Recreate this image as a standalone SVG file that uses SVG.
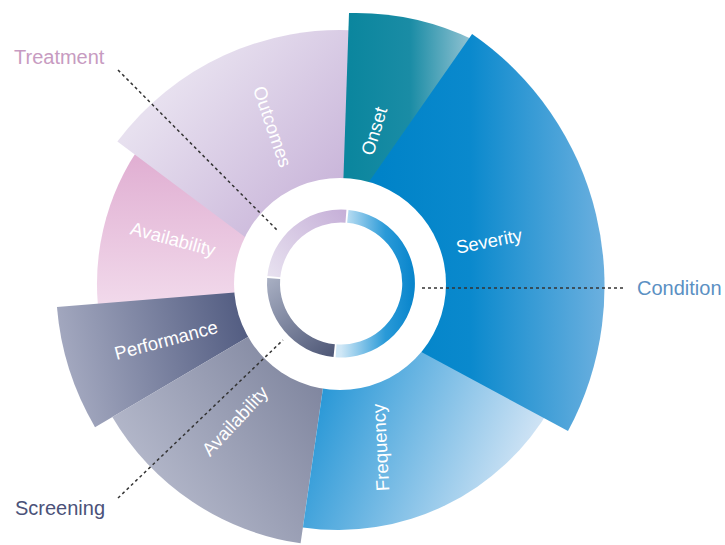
<svg xmlns="http://www.w3.org/2000/svg" width="725" height="545" viewBox="0 0 725 545">
  <style>
    .lbl { font-family: "Liberation Sans", Arial, sans-serif; font-size: 18.5px; fill: #ffffff; text-anchor: middle; }
    .cat { font-family: "Liberation Sans", Arial, sans-serif; font-size: 20px; }
    .dash { fill: none; stroke: #333333; stroke-width: 1.5; stroke-dasharray: 3 3; }
  </style>
  <defs>
    <linearGradient id="gOutcomes" gradientUnits="userSpaceOnUse" x1="170" y1="90" x2="320" y2="230">
      <stop offset="0" stop-color="#e7e0ef"/>
      <stop offset="1" stop-color="#c7b2d8"/>
    </linearGradient>
    <linearGradient id="gPink" gradientUnits="userSpaceOnUse" x1="0" y1="160" x2="0" y2="310">
      <stop offset="0" stop-color="#e1b0d3"/>
      <stop offset="1" stop-color="#f2dbec"/>
    </linearGradient>
    <linearGradient id="gPerf" gradientUnits="userSpaceOnUse" x1="240" y1="300" x2="60" y2="340">
      <stop offset="0" stop-color="#535d82"/>
      <stop offset="1" stop-color="#a3a8bf"/>
    </linearGradient>
    <linearGradient id="gScreen" gradientUnits="userSpaceOnUse" x1="320" y1="380" x2="140" y2="500">
      <stop offset="0" stop-color="#80869f"/>
      <stop offset="1" stop-color="#b7bbcd"/>
    </linearGradient>
    <linearGradient id="gFreq" gradientUnits="userSpaceOnUse" x1="320" y1="380" x2="540" y2="470">
      <stop offset="0" stop-color="#2596d6"/>
      <stop offset="1" stop-color="#dce9f7"/>
    </linearGradient>
    <linearGradient id="gSev" gradientUnits="userSpaceOnUse" x1="380" y1="0" x2="605" y2="0">
      <stop offset="0" stop-color="#0083c8"/>
      <stop offset="0.4" stop-color="#0a89cd"/>
      <stop offset="1" stop-color="#6cb0df"/>
    </linearGradient>
    <linearGradient id="gOnset" gradientUnits="userSpaceOnUse" x1="350" y1="0" x2="470" y2="0">
      <stop offset="0" stop-color="#0b869e"/>
      <stop offset="0.5" stop-color="#1a8ca5"/>
      <stop offset="1" stop-color="#90c2d2"/>
    </linearGradient>
    <linearGradient id="gRingP" gradientUnits="userSpaceOnUse" x1="270" y1="280" x2="345" y2="212">
      <stop offset="0" stop-color="#e8e2f0"/>
      <stop offset="1" stop-color="#c6b0d8"/>
    </linearGradient>
    <linearGradient id="gRingB" gradientUnits="userSpaceOnUse" x1="341" y1="0" x2="415" y2="0">
      <stop offset="0" stop-color="#cfe7f6"/>
      <stop offset="0.6" stop-color="#2a9ad8"/>
      <stop offset="1" stop-color="#0784cb"/>
    </linearGradient>
    <linearGradient id="gRingG" gradientUnits="userSpaceOnUse" x1="268" y1="280" x2="330" y2="357">
      <stop offset="0" stop-color="#a7aec2"/>
      <stop offset="1" stop-color="#4f5877"/>
    </linearGradient>
  </defs>

  <g id="wedge-treatment-availability">
    <path d="M 338 284 L 100.66 325.85 A 241 241 0 0 1 143.03 142.34 Z" fill="url(#gPink)"/>
  </g>
  <g id="wedge-outcomes">
    <path d="M 340 308 L 117.4 141.5 A 278 278 0 0 1 359.4 30.7 Z" fill="url(#gOutcomes)"/>
  </g>
  <g id="wedge-performance">
    <path d="M 338 284 L 95.02 427.13 A 282 282 0 0 1 56.95 307.11 Z" fill="url(#gPerf)"/>
  </g>
  <g id="wedge-screening-availability">
    <path d="M 338 284 L 300.6 543.3 A 262 262 0 0 1 112.3 417 Z" fill="url(#gScreen)"/>
  </g>
  <g id="wedge-frequency">
    <path d="M 338 284 L 551 407 A 246 246 0 0 1 302.9 527.5 Z" fill="url(#gFreq)"/>
  </g>
  <g id="wedge-onset">
    <path d="M 341 250 L 349 13 A 271 271 0 0 1 474.8 40.4 L 400 230 Z" fill="url(#gOnset)"/>
  </g>
  <g id="wedge-severity">
    <path d="M 297 285 L 472.1 34 A 306 306 0 0 1 568 431 Z" fill="url(#gSev)"/>
  </g>

  <g id="hub">
    <circle cx="340" cy="284" r="106" fill="#ffffff"/>
    <path d="M 267.38 276.02 A 74 74 0 0 1 346.42 209.70 L 345.47 222.66 A 61 61 0 0 0 280.31 277.34 Z" fill="url(#gRingP)"/>
    <path d="M 348.48 209.88 A 74 74 0 0 1 335.58 357.30 L 336.53 344.34 A 61 61 0 0 0 347.16 222.81 Z" fill="url(#gRingB)"/>
    <path d="M 333.52 357.12 A 74 74 0 0 1 267.20 278.08 L 280.16 279.03 A 61 61 0 0 0 334.84 344.19 Z" fill="url(#gRingG)"/>
  </g>

  <g id="connectors">
    <line class="dash" x1="118" y1="70" x2="277" y2="230"/>
    <line class="dash" x1="422" y1="288" x2="625" y2="288"/>
    <line class="dash" x1="118" y1="498" x2="283" y2="340"/>
  </g>

  <g id="labels">
    <text class="lbl" transform="translate(374,131) rotate(-73)" dy="0.35em">Onset</text>
    <text class="lbl" transform="translate(272.5,126.5) rotate(71)" dy="0.35em">Outcomes</text>
    <text class="lbl" transform="translate(489,241) rotate(-11)" dy="0.35em">Severity</text>
    <text class="lbl" transform="translate(173,239) rotate(15)" dy="0.35em">Availability</text>
    <text class="lbl" transform="translate(166,340) rotate(-15)" dy="0.35em">Performance</text>
    <text class="lbl" transform="translate(235,421) rotate(-47)" dy="0.35em">Availability</text>
    <text class="lbl" transform="translate(380.5,447.5) rotate(-93)" dy="0.35em">Frequency</text>
  </g>

  <g id="category-labels">
    <text class="cat" x="14" y="64" fill="#c79bc1">Treatment</text>
    <text class="cat" x="637" y="295" fill="#5b90c3">Condition</text>
    <text class="cat" x="15" y="515" fill="#4b5279">Screening</text>
  </g>
</svg>
